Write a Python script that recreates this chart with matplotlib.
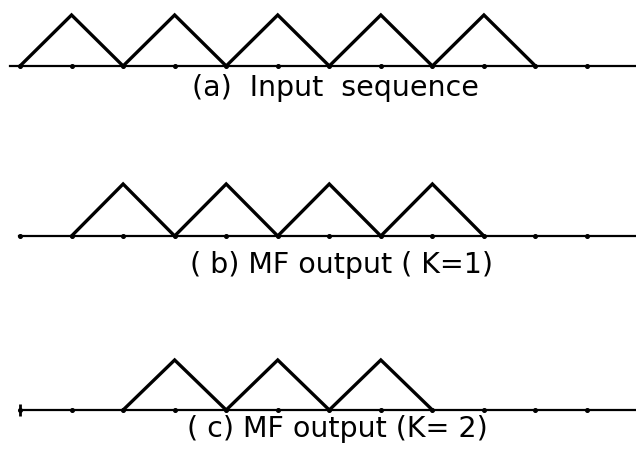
import numpy as np
import matplotlib
matplotlib.use("Agg")
import matplotlib.pyplot as plt

# Sample index grid shared by all three traces
n_grid = np.arange(0, 12)

# (a) input sequence: alternating 0/1 samples
n_input = np.arange(0, 11)
input_seq = [0, 1, 0, 1, 0, 1, 0, 1, 0, 1, 0]

# (b) matched-filter output, K = 1
n_k1 = np.arange(1, 10)
mf_k1 = [0, 1, 0, 1, 0, 1, 0, 1, 0]

# (c) matched-filter output, K = 2
n_k2 = np.arange(2, 9)
mf_k2 = [0, 1, 0, 1, 0, 1, 0]

labels = ["(a)  Input  sequence", "( b) MF output ( K=1)", "( c) MF output (K= 2)"]

W, H = 636, 451
XLIM = (-0.388, 11.95)

fig = plt.figure(figsize=(W / 100, H / 100), dpi=100, facecolor="white")


def _panel(baseline_px, peak_px, n, seq, label, label_x, label_px, line_start):
    ax = fig.add_axes([0, 1 - baseline_px / H, 1, (baseline_px - peak_px) / H])
    ax.set_xlim(*XLIM)
    ax.set_ylim(0, 1)
    ax.axis("off")
    # baseline
    ax.axhline(0, xmin=line_start, xmax=1, color="black", linewidth=1.6,
               clip_on=False)
    # sample dots
    ax.plot(n_grid, np.zeros(len(n_grid)), linestyle="none", marker="o",
            markersize=2.6, color="black", clip_on=False)
    # triangle trace
    ax.plot(n, seq, color="black", linewidth=2.4, solid_joinstyle="miter",
            clip_on=False)
    h = baseline_px - peak_px
    ax.text(label_x / W, (baseline_px - label_px) / h, label,
            transform=ax.transAxes, ha="center", va="center", fontsize=20.5,
            family="DejaVu Sans")
    return ax


_panel(66, 15, n_input, input_seq, labels[0], 335, 88, 10 / W)
_panel(236, 184, n_k1, mf_k1, labels[1], 342, 265, 19 / W)
ax_c = _panel(410, 360, n_k2, mf_k2, labels[2], 337, 429, 20 / W)
# end stop at the left of the last trace
ax_c.plot([XLIM[0] + 20 / 51.55], [0], marker="|", markersize=8,
          markeredgewidth=2, color="black", clip_on=False)

fig.savefig("out.png", dpi=100, facecolor="white")
